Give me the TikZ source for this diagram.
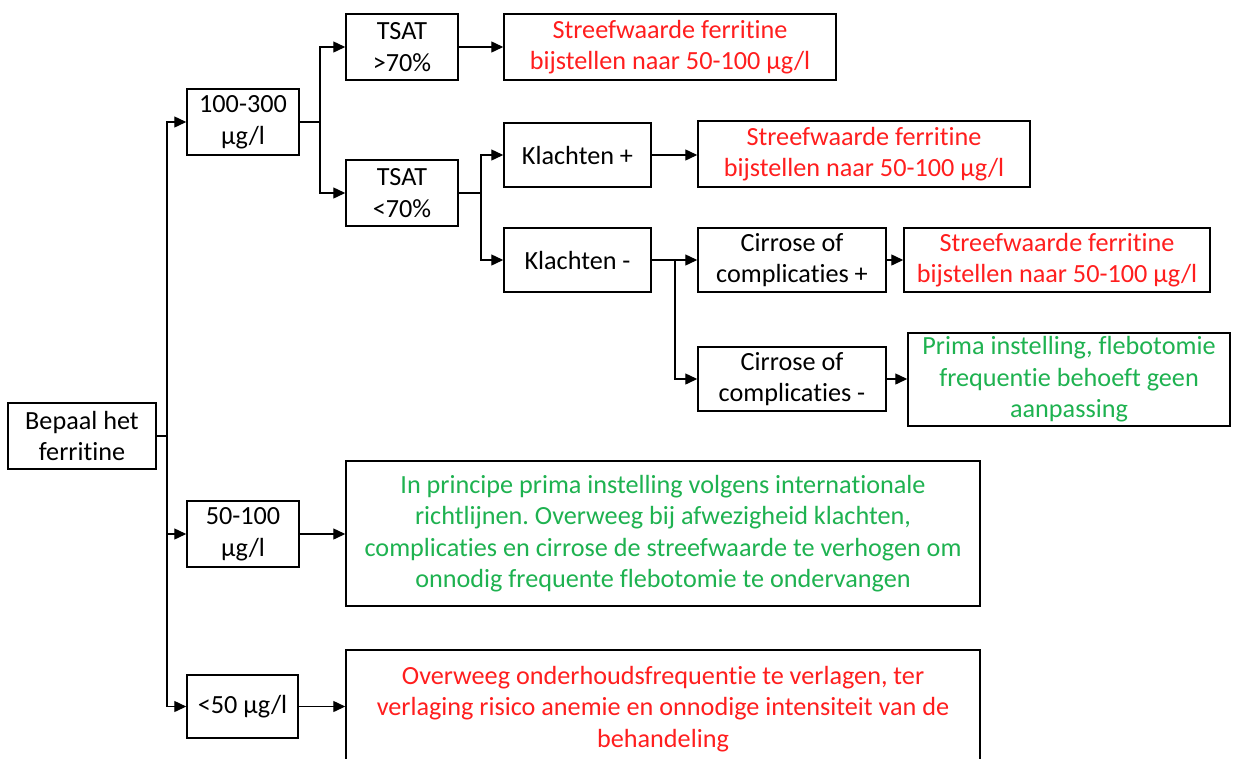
\documentclass[tikz,border=0pt]{standalone}
\usepackage{fontspec}
\setmainfont[Ligatures=NoCommon]{Carlito}
\usetikzlibrary{arrows.meta}
\definecolor{txtred}{RGB}{255,30,30}
\definecolor{txtgreen}{RGB}{30,178,80}
\frenchspacing
\begin{document}
\begin{tikzpicture}[x=1pt,y=-1pt,
  box/.style={draw=black,line width=1.5pt,inner sep=0pt,align=center,
    font=\fontsize{26.2}{31.5}\selectfont},
  redt/.style={box,text=txtred},
  greent/.style={box,text=txtgreen},
  conn/.style={line width=1.4pt},
  arr/.style={conn,-{Triangle[length=12pt,width=11pt]}}]
\useasboundingbox (0,0) rectangle (1233,758);
\clip (0,0) rectangle (1233,758);
\fill[white] (0,0) rectangle (1233,758);
% nodes
\node[box,minimum width=148,minimum height=66] (bepaal) at (82,436) {Bepaal het\\ferritine};
\node[box,minimum width=112,minimum height=66] (r100) at (243,122) {100-300\\µg/l};
\node[box,minimum width=112,minimum height=66] (r5100) at (243,534) {50-100\\µg/l};
\node[box,minimum width=111,minimum height=63] (r50) at (242.5,706.5) {<50 µg/l};
\node[box,minimum width=112,minimum height=66] (ta) at (402,47) {TSAT\\>70\%};
\node[box,minimum width=112,minimum height=66] (tb) at (402,193) {TSAT\\<70\%};
\node[redt,minimum width=332,minimum height=66] (red1) at (670,47) {Streefwaarde ferritine\\bijstellen naar 50-100 µg/l};
\node[box,minimum width=147,minimum height=64] (klp) at (577.5,155) {Klachten +};
\node[box,minimum width=147,minimum height=64] (klm) at (577.5,260) {Klachten -};
\node[redt,minimum width=332,minimum height=66] (red2) at (864,154) {Streefwaarde ferritine\\bijstellen naar 50-100 µg/l};
\node[box,minimum width=188,minimum height=64] (cp) at (792,260) {Cirrose of\\complicaties +};
\node[box,minimum width=188,minimum height=64] (cm) at (792,379) {Cirrose of\\complicaties -};
\node[redt,minimum width=306,minimum height=64] (red3) at (1057,260) {Streefwaarde ferritine\\bijstellen naar 50-100 µg/l};
\node[greent,minimum width=322,minimum height=93] (green1) at (1069,379.5) {Prima instelling, flebotomie\\frequentie behoeft geen\\aanpassing};
\node[greent,minimum width=634,minimum height=145] (greenbig) at (663,533.5) {In principe prima instelling volgens internationale\\richtlijnen. Overweeg bij afwezigheid klachten,\\complicaties en cirrose de streefwaarde te verhogen om\\onnodig frequente flebotomie te ondervangen};
\node[redt,minimum width=634,minimum height=118] (redbig) at (663,709) {Overweeg onderhoudsfrequentie te verlagen, ter\\verlaging risico anemie en onnodige intensiteit van de\\behandeling};
% junctions
\coordinate (j1) at (167,436);
\coordinate (j2) at (320,122);
\coordinate (j3) at (481,193);
\coordinate (j4) at (675,260);
% connectors
\draw[conn] (bepaal.east) -- (j1);
\draw[arr] (j1) |- (r100.west);
\draw[arr] (j1) |- (r5100.west);
\draw[arr] (j1) |- (r50.west);
\draw[conn] (r100.east) -- (j2);
\draw[arr] (j2) |- (ta.west);
\draw[arr] (j2) |- (tb.west);
\draw[arr] (ta.east) -- (red1.west);
\draw[conn] (tb.east) -- (j3);
\draw[arr] (j3) |- (klp.west);
\draw[arr] (j3) |- (klm.west);
\draw[arr] (klp.east) -- (klp.east -| red2.west);
\draw[conn] (klm.east) -- (j4);
\draw[arr] (j4) |- (cp.west);
\draw[arr] (j4) |- (cm.west);
\draw[arr] (cp.east) -- (red3.west);
\draw[arr] (cm.east) -- (cm.east -| green1.west);
\draw[arr] (r5100.east) -- (r5100.east -| greenbig.west);
\draw[arr] (r50.east) -- (r50.east -| redbig.west);
\end{tikzpicture}
\end{document}
